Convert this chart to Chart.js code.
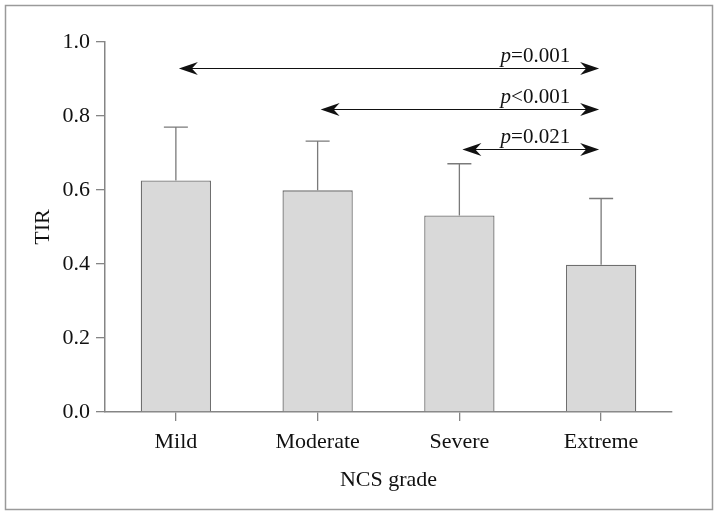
<!DOCTYPE html>
<html>
<head>
<meta charset="utf-8">
<script src="https://cdn.jsdelivr.net/npm/chart.js@4.4.1/dist/chart.umd.min.js"></script>
<style>
  html, body { margin: 0; padding: 0; background: #fff; }
  #wrap { width: 718px; height: 515px; position: relative; }
</style>
</head>
<body>
<div id="wrap"><canvas id="tirChart" width="718" height="515"></canvas></div>
<script>
// Data
const categories = ["Mild", "Moderate", "Severe", "Extreme"];
const tirMeans = [0.626, 0.599, 0.531, 0.398];
const tirUpper = [0.770, 0.732, 0.671, 0.577];
const yTicks = [0.0, 0.2, 0.4, 0.6, 0.8, 1.0];

// pairwise comparisons (index into categories)
const compareFrom = [0, 1, 2];
const compareTo = [3, 3, 3];
const compareLevel = [0.93, 0.818, 0.712];
const compareText = ["=0.001", "<0.001", "=0.021"];

const axisGray = "#858585";
const serif = "'Liberation Serif', 'Times New Roman', serif";

// outer frame
const framePlugin = {
  id: "frame",
  beforeDraw(chart) {
    const c = chart.ctx;
    c.save();
    c.fillStyle = "#fff";
    c.fillRect(0, 0, chart.width, chart.height);
    c.strokeStyle = "#9a9a9a";
    c.lineWidth = 1.5;
    c.strokeRect(5.5, 5.5, 707, 504);
    c.restore();
  }
};

// upper error bars
const errorBarPlugin = {
  id: "errorBars",
  afterDatasetsDraw(chart) {
    const c = chart.ctx;
    const meta = chart.getDatasetMeta(0);
    const y = chart.scales.y;
    c.save();
    c.strokeStyle = "#7a7a7a";
    c.lineWidth = 1.3;
    meta.data.forEach((bar, i) => {
      const yTop = y.getPixelForValue(tirUpper[i]);
      c.beginPath();
      c.moveTo(bar.x, bar.y);
      c.lineTo(bar.x, yTop);
      c.moveTo(bar.x - 12, yTop);
      c.lineTo(bar.x + 12, yTop);
      c.stroke();
    });
    c.restore();
  }
};

function arrowHead(c, x, y, dir) {
  // dir = 1 points right, -1 points left
  c.beginPath();
  c.moveTo(x, y);
  c.lineTo(x - dir * 19, y - 6.5);
  c.lineTo(x - dir * 13, y);
  c.lineTo(x - dir * 19, y + 6.5);
  c.closePath();
  c.fill();
}

// comparison arrows with p values
const comparePlugin = {
  id: "compare",
  afterDraw(chart) {
    const c = chart.ctx;
    const x = chart.scales.x;
    const y = chart.scales.y;
    c.save();
    c.strokeStyle = "#111";
    c.fillStyle = "#111";
    c.lineWidth = 1.2;
    compareFrom.forEach((from, i) => {
      const x1 = x.getPixelForValue(from) + 3;
      const x2 = x.getPixelForValue(compareTo[i]) - 2;
      const yy = Math.round(y.getPixelForValue(compareLevel[i])) + 0.5;
      c.beginPath();
      c.moveTo(x1 + 10, yy);
      c.lineTo(x2 - 10, yy);
      c.stroke();
      arrowHead(c, x1, yy, -1);
      arrowHead(c, x2, yy, 1);

      // label: italic p + rest, right aligned
      const right = x2 - 29;
      const base = yy - 7;
      c.textBaseline = "alphabetic";
      c.textAlign = "right";
      c.font = "21px " + serif;
      const rest = compareText[i];
      const w = c.measureText(rest).width;
      c.fillText(rest, right, base);
      c.font = "italic 21px " + serif;
      c.fillText("p", right - w, base);
    });
    c.restore();
  }
};

new Chart(document.getElementById("tirChart"), {
  type: "bar",
  data: {
    labels: categories,
    datasets: [{
      label: "TIR",
      data: tirMeans,
      backgroundColor: "#d9d9d9",
      borderColor: "#6f6f6f",
      borderWidth: 1.3,
      barPercentage: 0.62,
      categoryPercentage: 0.8
    }]
  },
  options: {
    responsive: false,
    animation: false,
    layout: { padding: { top: 42, right: 46, left: 0, bottom: 0 } },
    plugins: {
      legend: { display: false },
      tooltip: { enabled: false }
    },
    scales: {
      x: {
        afterFit: s => { s.height = 103; },
        grid: { display: true, drawOnChartArea: false, offset: false, tickLength: 9, color: axisGray, lineWidth: 1.3 },
        border: { display: true, color: axisGray, width: 1.5 },
        ticks: { color: "#111", font: { family: serif, size: 22 }, padding: 8 },
        title: { display: true, text: "NCS grade", color: "#111", font: { family: serif, size: 22 }, padding: { bottom: 22 } }
      },
      y: {
        min: 0,
        max: 1,
        afterFit: s => { s.width = 105; },
        afterBuildTicks: s => { s.ticks = yTicks.map(v => ({ value: v })); },
        grid: { display: true, drawOnChartArea: false, tickLength: 9, color: axisGray, lineWidth: 1.3 },
        border: { display: true, color: axisGray, width: 1.5 },
        ticks: { color: "#111", font: { family: serif, size: 22 }, padding: 6, callback: v => v.toFixed(1) },
        title: { display: true, text: "TIR", color: "#111", font: { family: serif, size: 22 }, padding: { top: 30 } }
      }
    }
  },
  plugins: [framePlugin, errorBarPlugin, comparePlugin]
});
</script>
</body>
</html>
